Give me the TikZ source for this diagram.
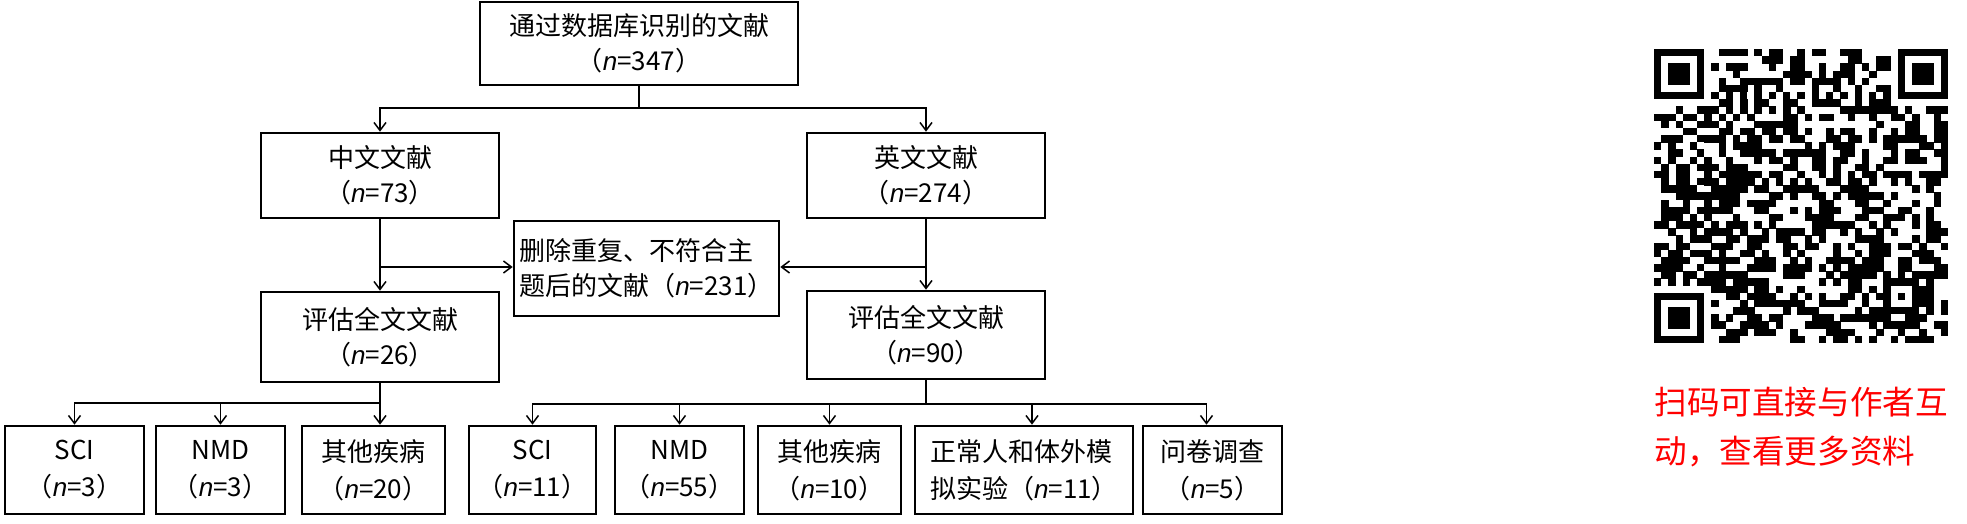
\documentclass[tikz,border=0pt]{standalone}
\usepackage{fontspec}
\setmainfont{Liberation Sans}
\newfontfamily\cjk{Noto Sans CJK SC}
\usetikzlibrary{arrows.meta}
\newcommand{\nn}[1]{（{\rmfamily\itshape n}=#1）}
\begin{document}
\begin{tikzpicture}[x=0.5pt,y=-0.5pt,
  box/.style={draw,line width=1.3pt,inner sep=0pt,align=center,
    font=\cjk\fontsize{13}{17.5}\selectfont},
  lowbox/.style={box,minimum height=44pt,font=\cjk\fontsize{13}{18.5}\selectfont},
  conn/.style={line width=0.75pt},
  arr/.style={conn,-{Straight Barb[length=4pt,width=6pt]}}]
\useasboundingbox (0,0) rectangle (1967,524);

% ---- main boxes
\node[box,minimum width=159pt,minimum height=41.5pt] (top) at (639,43.5) {通过数据库识别的文献\\\nn{347}};
\node[box,minimum width=119pt,minimum height=42.5pt] (zh) at (380,175.5) {中文文献\\\nn{73}};
\node[box,minimum width=119pt,minimum height=42.5pt] (en) at (926,175.5) {英文文献\\\nn{274}};
\node[box,align=left,minimum width=132.5pt,minimum height=47.5pt] (del) at (646.5,268.5) {删除重复、不符合主\\题后的文献\nn{231}};
\node[box,minimum width=119pt,minimum height=45pt] (evL) at (380,337) {评估全文文献\\\nn{26}};
\node[box,minimum width=119pt,minimum height=44pt] (evR) at (926,335) {评估全文文献\\\nn{90}};

% ---- bottom boxes
\node[lowbox,minimum width=69.5pt] (b1) at (74.5,470) {SCI\\\nn{3}};
\node[lowbox,minimum width=64.5pt] (b2) at (220.5,470) {NMD\\\nn{3}};
\node[lowbox,minimum width=71.5pt] (b3) at (373.5,470) {其他疾病\\\nn{20}};
\node[lowbox,minimum width=63.5pt] (b4) at (532.5,470) {SCI\\\nn{11}};
\node[lowbox,minimum width=64.5pt] (b5) at (679.5,470) {NMD\\\nn{55}};
\node[lowbox,minimum width=71.5pt] (b6) at (829.5,470) {其他疾病\\\nn{10}};
\node[lowbox,align=left,minimum width=109pt] (b7) at (1024,470) {正常人和体外模\\拟实验\nn{11}};
\node[lowbox,minimum width=69.5pt] (b8) at (1212.5,470) {问卷调查\\\nn{5}};

% ---- connectors
\coordinate (hy) at (0,108);
\coordinate (jy) at (0,267);
\coordinate (by) at (0,403);
\coordinate (by2) at (0,404);

\draw[conn] (top.south) -- (top.south |- hy);
\draw[arr] (top.south |- hy) -| (zh.north);
\draw[arr] (top.south |- hy) -| (en.north);

\draw[arr] (zh.south) -- (evL.north);
\draw[arr] (en.south) -- (evR.north);
\draw[arr] (zh.south |- jy) -- (del.west |- jy);
\draw[arr] (en.south |- jy) -- (del.east |- jy);

\draw[conn] (evL.south) -- (evL.south |- by);
\draw[arr] (evL.south |- by) -| (b1.north);
\draw[arr] (evL.south |- by) -| (b2.north);
\draw[arr] (evL.south |- by) -- (evL.south |- b3.north);

\draw[conn] (evR.south) -- (evR.south |- by2);
\draw[arr] (evR.south |- by2) -| (b4.north);
\draw[arr] (evR.south |- by2) -| (b5.north);
\draw[arr] (evR.south |- by2) -| (b6.north);
\draw[arr] (evR.south |- by2) -| ([xshift=4pt]b7.north);
\draw[arr] (evR.south |- by2) -| ([xshift=-3pt]b8.north);

% ---- QR code (approximate)
\def\qx{1654}\def\qy{49}\def\qm{7.17}
\pgfmathsetseed{24681}
\foreach \i in {0,...,40}{
  \foreach \j in {0,...,40}{
    \pgfmathtruncatemacro\qsk{((\i<8)&&(\j<8))||((\i>32)&&(\j<8))||((\i<8)&&(\j>32))||((\i>31)&&(\i<37)&&(\j>31)&&(\j<37))||(\i==6)||(\j==6)}
    \ifnum\qsk=0
      \pgfmathtruncatemacro\qbit{rnd<0.5}
      \ifnum\qbit=1 \fill (\qx+\i*\qm,\qy+\j*\qm) rectangle ++(\qm+0.3,\qm+0.3);\fi
    \fi
  }}
\foreach \ca/\cb in {0/0,34/0,0/34}{
  \fill (\qx+\ca*\qm,\qy+\cb*\qm) rectangle ++(7*\qm,7*\qm);
  \fill[white] (\qx+\ca*\qm+\qm,\qy+\cb*\qm+\qm) rectangle ++(5*\qm,5*\qm);
  \fill (\qx+\ca*\qm+2*\qm,\qy+\cb*\qm+2*\qm) rectangle ++(3*\qm,3*\qm);
}
\fill (\qx+32*\qm,\qy+32*\qm) rectangle ++(5*\qm,5*\qm);
\fill[white] (\qx+33*\qm,\qy+33*\qm) rectangle ++(3*\qm,3*\qm);
\fill (\qx+34*\qm,\qy+34*\qm) rectangle ++(\qm,\qm);
\foreach \k in {8,10,...,32}{
  \fill (\qx+\k*\qm,\qy+6*\qm) rectangle ++(\qm,\qm);
  \fill (\qx+6*\qm,\qy+\k*\qm) rectangle ++(\qm,\qm);
}

\node[anchor=west,text=red,align=left,inner sep=0pt,
  font=\cjk\fontsize{16.3}{24.5}\selectfont] (qrtxt) at (1654,427.5)
  {扫码可直接与作者互\\动，查看更多资料};
\end{tikzpicture}
\end{document}
